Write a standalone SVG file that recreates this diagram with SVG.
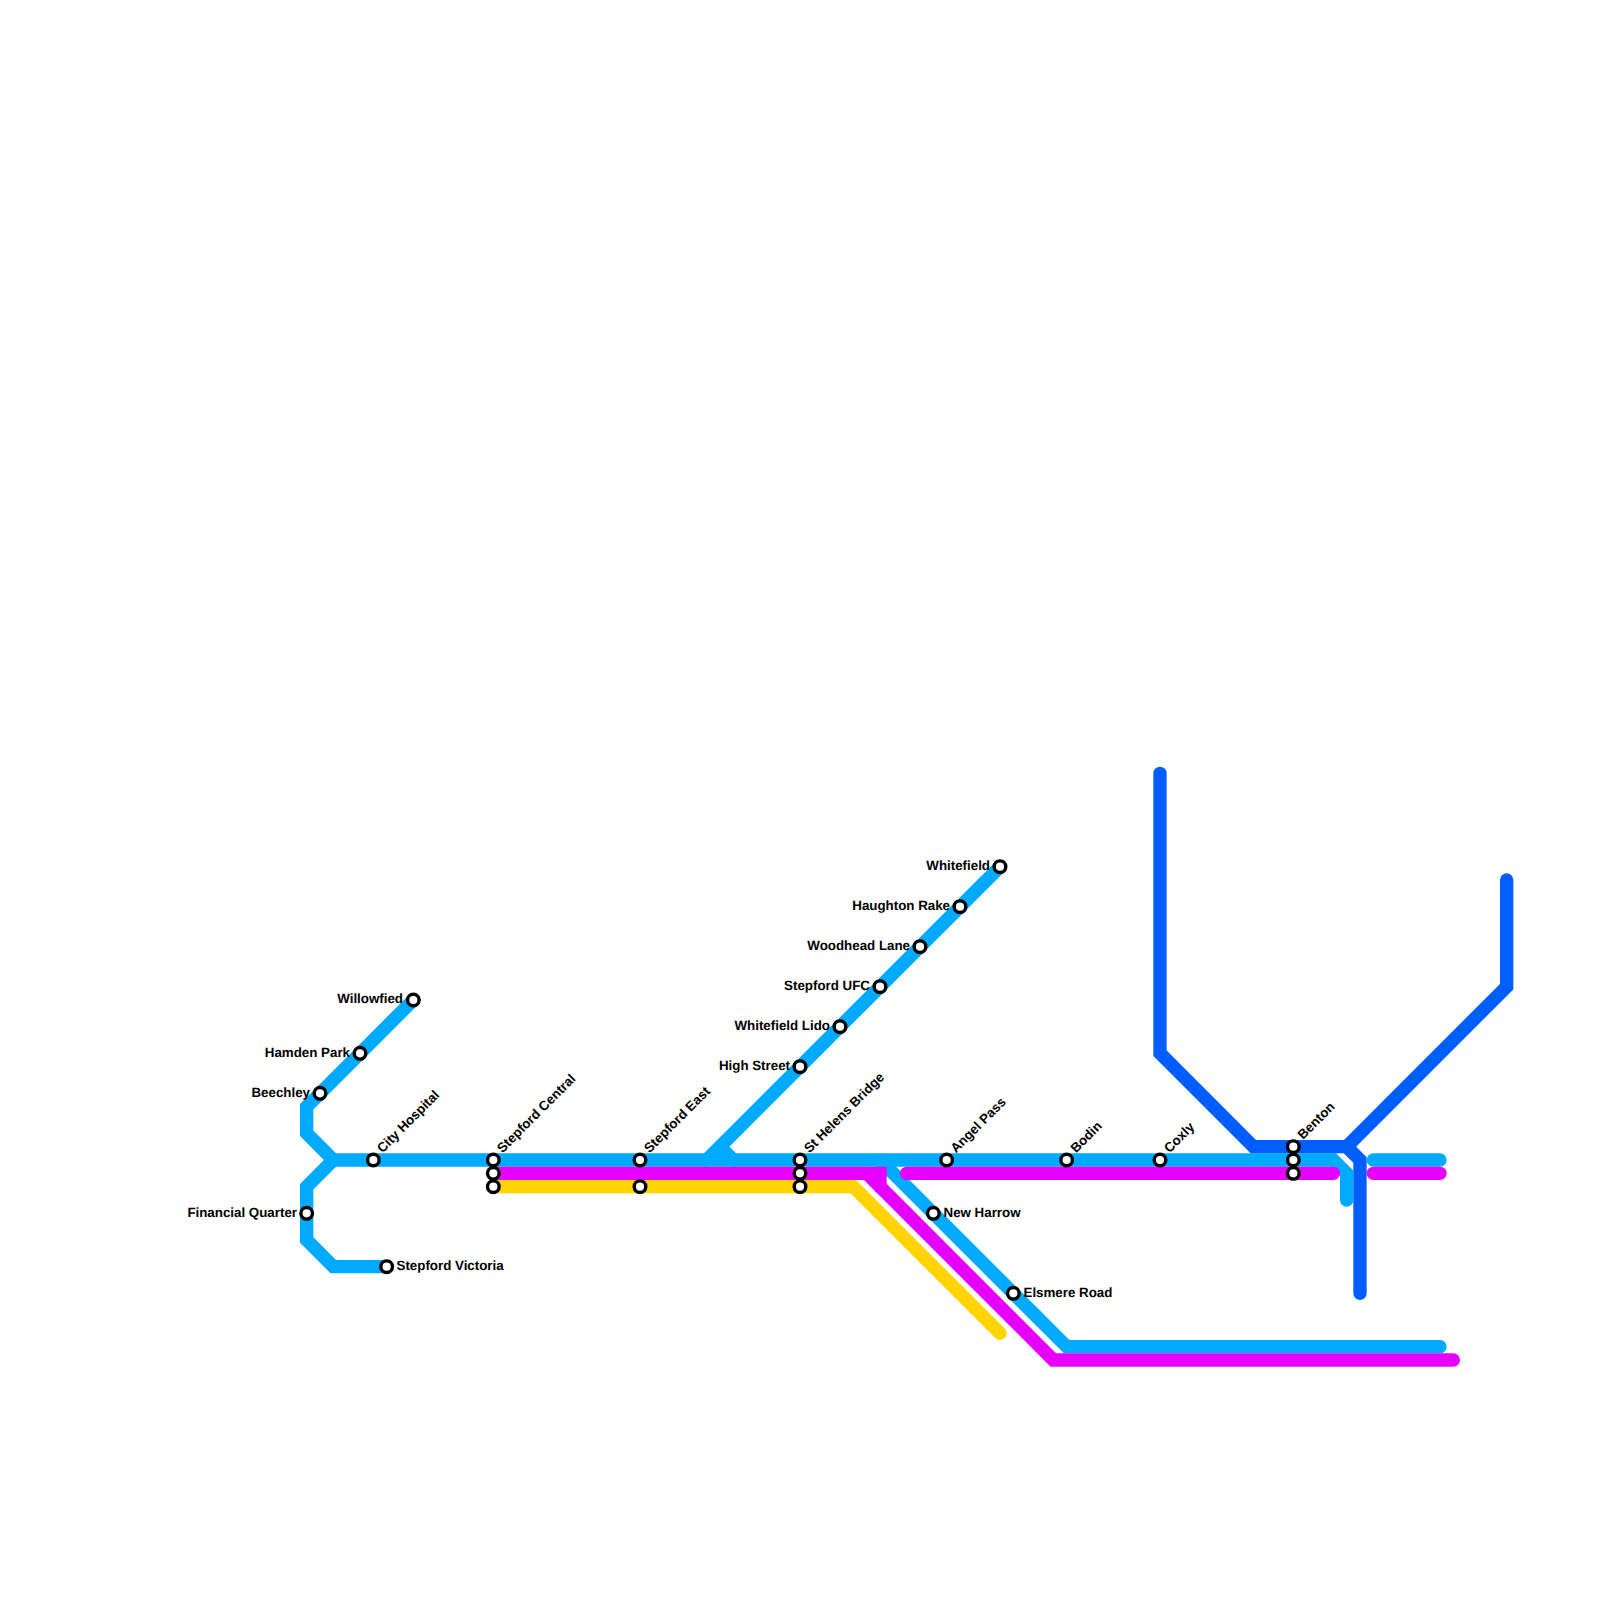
<svg xmlns="http://www.w3.org/2000/svg" width="1600" height="1600" viewBox="0 0 1600 1600">
<style>
.l{fill:none;stroke-width:13.33;stroke-linecap:round;stroke-linejoin:miter}
.b{stroke:#00aaff}.m{stroke:#e600ff}.y{stroke:#ffd400}.d{stroke:#005eff}
.s{fill:#fff;stroke:#000;stroke-width:3.4}
text{font-family:"Liberation Sans",Arial,sans-serif;font-size:13.33px;font-weight:bold;fill:#000;text-rendering:geometricPrecision}
.e{text-anchor:end}
</style>
<rect width="1600" height="1600" fill="#fff"/>
<g id="connectors">
<path class="l b" d="M413.33 1000L306.67 1106.67V1133.33L333.33 1160H1333.33L1346.67 1173.33V1200"/>
<path class="l b" d="M386.67 1266.67H333.33L306.67 1240V1186.67L333.33 1160"/>
<path class="l b" d="M1000 866.67L706.67 1160"/>
<path class="l b" d="M720 1146.67L733.33 1160"/>
<path class="l b" d="M880 1160L1066.67 1346.67H1440"/>
<path class="l b" d="M1373.33 1160H1440"/>
<path class="l y" d="M493.33 1186.67H853.33L1000 1333.33"/>
<path class="l m" d="M493.33 1173.33H880V1186.67"/>
<path class="l m" d="M866.67 1173.33L1053.33 1360H1453.33"/>
<path class="l m" d="M906.67 1173.33H1333.33"/>
<path class="l m" d="M1373.33 1173.33H1440"/>
<path class="l d" d="M1160 773.33V1053.33L1253.33 1146.67H1346.67L1360 1160V1293.33"/>
<path class="l d" d="M1346.67 1146.67L1506.67 986.67V880"/>
</g>
<g id="st-willowfied"><circle class="s" cx="413.33" cy="1000" r="5.8"/><text class="e" x="403" y="1003">Willowfied</text></g>
<g id="st-hamden"><circle class="s" cx="360" cy="1053.33" r="5.8"/><text class="e" x="350" y="1056.5">Hamden Park</text></g>
<g id="st-beechley"><circle class="s" cx="320" cy="1093.33" r="5.8"/><text class="e" x="310" y="1096.5">Beechley</text></g>
<g id="st-city"><circle class="s" cx="373.33" cy="1160" r="5.8"/><text transform="translate(382.5 1153.5) rotate(-45)">City Hospital</text></g>
<g id="st-financial"><circle class="s" cx="306.67" cy="1213.33" r="5.8"/><text class="e" x="297" y="1216.5">Financial Quarter</text></g>
<g id="st-victoria"><circle class="s" cx="386.67" cy="1266.67" r="5.8"/><text x="396.5" y="1269.5">Stepford Victoria</text></g>
<g id="st-central"><circle class="s" cx="493.33" cy="1160" r="5.8"/><circle class="s" cx="493.33" cy="1173.33" r="5.8"/><circle class="s" cx="493.33" cy="1186.67" r="5.8"/><text transform="translate(502.5 1153.5) rotate(-45)">Stepford Central</text></g>
<g id="st-east"><circle class="s" cx="640" cy="1160" r="5.8"/><circle class="s" cx="640" cy="1186.67" r="5.8"/><text transform="translate(649.5 1153.5) rotate(-45)">Stepford East</text></g>
<g id="st-helens"><circle class="s" cx="800" cy="1160" r="5.8"/><circle class="s" cx="800" cy="1173.33" r="5.8"/><circle class="s" cx="800" cy="1186.67" r="5.8"/><text transform="translate(809.5 1153.5) rotate(-45)">St Helens Bridge</text></g>
<g id="st-angel"><circle class="s" cx="946.67" cy="1160" r="5.8"/><text transform="translate(956 1153.5) rotate(-45)">Angel Pass</text></g>
<g id="st-harrow"><circle class="s" cx="933.33" cy="1213.33" r="5.8"/><text x="943.5" y="1216.5">New Harrow</text></g>
<g id="st-elsmere"><circle class="s" cx="1013.33" cy="1293.33" r="5.8"/><text x="1023.5" y="1296.5">Elsmere Road</text></g>
<g id="st-bodin"><circle class="s" cx="1066.67" cy="1160" r="5.8"/><text transform="translate(1076 1153.5) rotate(-45)">Bodin</text></g>
<g id="st-coxly"><circle class="s" cx="1160" cy="1160" r="5.8"/><text transform="translate(1169.5 1153.5) rotate(-45)">Coxly</text></g>
<g id="st-benton"><circle class="s" cx="1293.33" cy="1146.67" r="5.8"/><circle class="s" cx="1293.33" cy="1160" r="5.8"/><circle class="s" cx="1293.33" cy="1173.33" r="5.8"/><text transform="translate(1303 1140) rotate(-45)">Benton</text></g>
<g id="st-whitefield"><circle class="s" cx="1000" cy="866.67" r="5.8"/><text class="e" x="990" y="869.5">Whitefield</text></g>
<g id="st-haughton"><circle class="s" cx="960" cy="906.67" r="5.8"/><text class="e" x="950" y="909.5">Haughton Rake</text></g>
<g id="st-woodhead"><circle class="s" cx="920" cy="946.67" r="5.8"/><text class="e" x="910" y="949.5">Woodhead Lane</text></g>
<g id="st-ufc"><circle class="s" cx="880" cy="986.67" r="5.8"/><text class="e" x="870" y="989.5">Stepford UFC</text></g>
<g id="st-lido"><circle class="s" cx="840" cy="1026.67" r="5.8"/><text class="e" x="830" y="1029.5">Whitefield Lido</text></g>
<g id="st-high"><circle class="s" cx="800" cy="1066.67" r="5.8"/><text class="e" x="790" y="1069.5">High Street</text></g>
</svg>
